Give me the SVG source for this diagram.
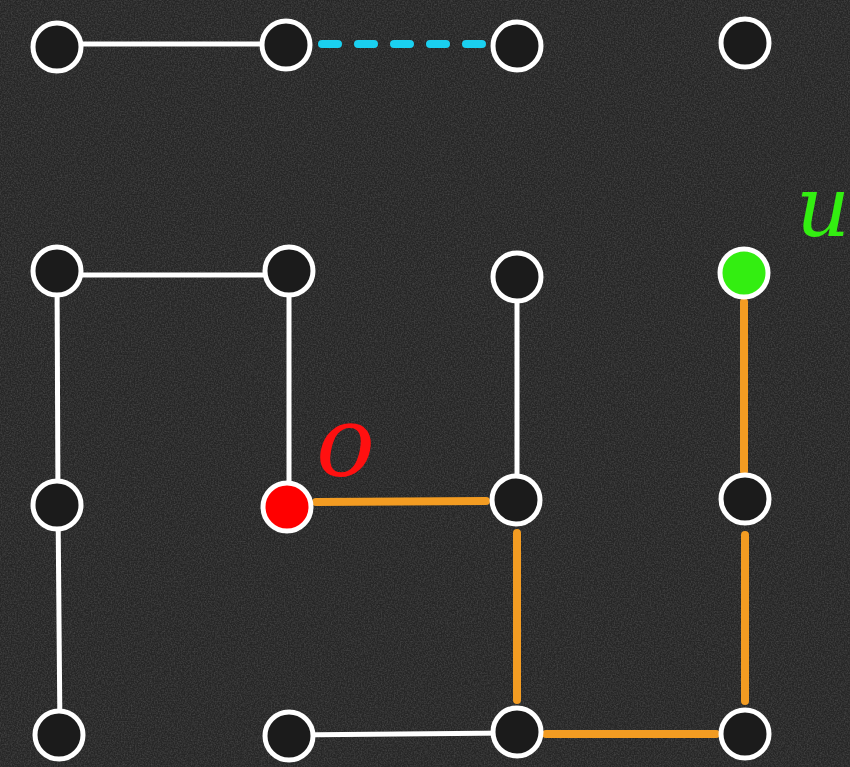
<svg xmlns="http://www.w3.org/2000/svg" width="850" height="767" viewBox="0 0 850 767">
<defs>
<filter id="noise" x="0" y="0" width="100%" height="100%">
<feTurbulence type="fractalNoise" baseFrequency="0.7" numOctaves="2" seed="3" result="t"/>
<feColorMatrix type="matrix" values="0 0 0 0 0.5  0 0 0 0 0.5  0 0 0 0 0.5  0.9 0 0 0 -0.3"/>
</filter>
</defs>
<style>
.node{fill:#1b1b1b;stroke:#ffffff;stroke-width:5}
.w{stroke:#ffffff;stroke-width:5;fill:none}
.o{stroke:#f39c22;stroke-width:8;stroke-linecap:round;fill:none}
.d{stroke:#1ad0f0;stroke-width:8;stroke-linecap:round;stroke-dasharray:16 20;fill:none}
.lbl{font-family:"DejaVu Serif","Liberation Serif",serif;font-style:italic}
</style>
<rect width="850" height="767" fill="#262626"/>
<rect width="850" height="767" filter="url(#noise)" opacity="0.4"/>
<g id="connectors">
<line class="w" x1="57" y1="44" x2="286" y2="44"/>
<line class="d" x1="322" y1="44" x2="484" y2="44"/>
<line class="w" x1="57" y1="275" x2="289" y2="275"/>
<line class="w" x1="57" y1="271" x2="58" y2="505"/>
<line class="w" x1="58" y1="505" x2="60" y2="735"/>
<line class="w" x1="289" y1="271" x2="289" y2="506"/>
<line class="w" x1="517" y1="277" x2="517" y2="499"/>
<line class="w" x1="289" y1="735" x2="517" y2="733"/>
<line class="o" x1="316" y1="502" x2="486" y2="501"/>
<line class="o" x1="517" y1="533" x2="517" y2="700"/>
<line class="o" x1="546" y1="734" x2="716" y2="734"/>
<line class="o" x1="745" y1="535" x2="745" y2="701"/>
<line class="o" x1="744" y1="302" x2="744" y2="471"/>
</g>
<g id="n1"><circle class="node" cx="57" cy="47" r="24"/></g>
<g id="n2"><circle class="node" cx="286" cy="45" r="24"/></g>
<g id="n3"><circle class="node" cx="517" cy="46" r="24"/></g>
<g id="n4"><circle class="node" cx="745" cy="43" r="24"/></g>
<g id="n5"><circle class="node" cx="57" cy="271" r="24"/></g>
<g id="n6"><circle class="node" cx="289" cy="271" r="24"/></g>
<g id="n7"><circle class="node" cx="517" cy="277" r="24"/></g>
<g id="n8"><circle class="node" cx="744" cy="273" r="24" style="fill:#33ee11"/></g>
<g id="n9"><circle class="node" cx="57" cy="505" r="24"/></g>
<g id="n10"><circle class="node" cx="287" cy="507" r="24" style="fill:#ff0000"/></g>
<g id="n11"><circle class="node" cx="516" cy="500" r="24"/></g>
<g id="n12"><circle class="node" cx="745" cy="499" r="24"/></g>
<g id="n13"><circle class="node" cx="59" cy="735" r="24"/></g>
<g id="n14"><circle class="node" cx="289" cy="736" r="24"/></g>
<g id="n15"><circle class="node" cx="517" cy="732" r="24"/></g>
<g id="n16"><circle class="node" cx="745" cy="734" r="24"/></g>
<g id="labels">
<text class="lbl" x="316" y="476" font-size="98" fill="#ff1010">o</text>
<text class="lbl" x="796" y="236" font-size="84" fill="#33ee11">u</text>
</g>
</svg>
